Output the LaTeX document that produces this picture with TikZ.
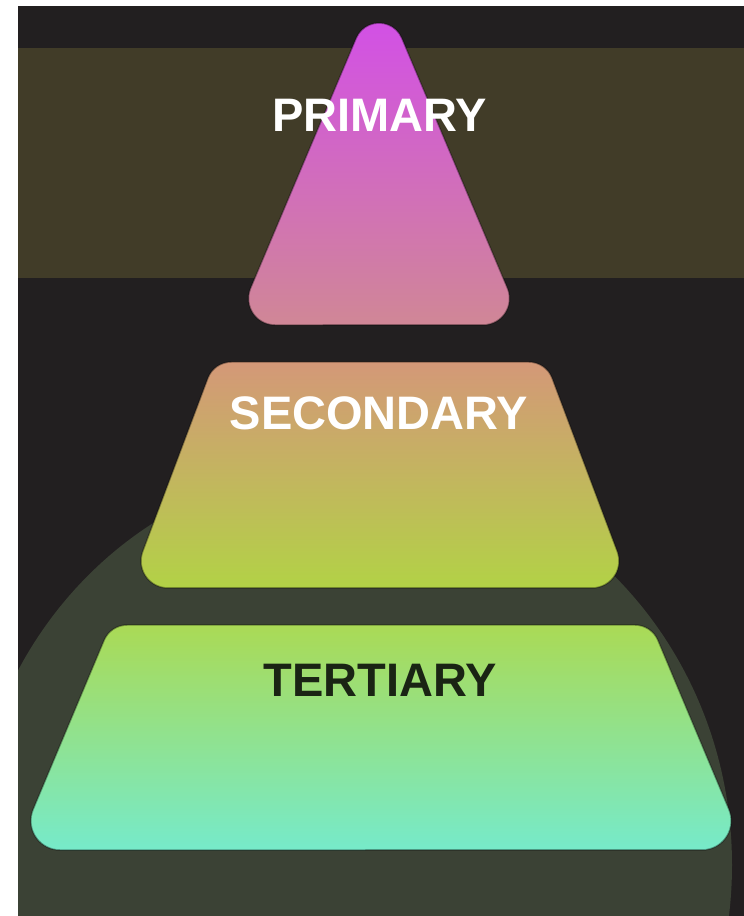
\documentclass[tikz,border=0pt]{standalone}
\usepackage{fontspec}
\setmainfont{Liberation Sans}
\usepackage{tikz}

\definecolor{bgdark}{RGB}{34,31,32}
\definecolor{bgolive}{RGB}{65,60,40}
\definecolor{bgmound}{RGB}{59,66,53}
\definecolor{pritop}{RGB}{210,80,230}
\definecolor{primid}{RGB}{204,100,205}
\definecolor{pribot}{RGB}{208,135,150}
\definecolor{sectop}{RGB}{212,152,120}
\definecolor{secmid}{RGB}{195,185,65}
\definecolor{secbot}{RGB}{178,210,70}
\definecolor{tertop}{RGB}{170,218,85}
\definecolor{termid}{RGB}{136,230,168}
\definecolor{terbot}{RGB}{118,234,202}
\definecolor{tertext}{RGB}{26,36,20}

\begin{document}
\begin{tikzpicture}[x=1pt,y=1pt,
    layer/.style={draw=black,draw opacity=0.35,line width=1.5pt},
    lbl/.style={font=\fontsize{47}{47}\selectfont\bfseries,anchor=base,inner sep=0pt}]
  \useasboundingbox (0,0) rectangle (744,916);
  \fill[white] (0,0) rectangle (744,916);
  \fill[bgdark] (18,0) rectangle (744,910);
  \fill[bgolive] (18,638) rectangle (744,868);
  \begin{scope}
    \clip (18,0) rectangle (744,910);
    \fill[bgmound] (351,51) ellipse [x radius=381,y radius=400];
  \end{scope}
  % primary
  \shade[layer,top color=pritop,middle color=primid,bottom color=pribot]
    (379,591) -- (483,591) arc[start angle=-90,end angle=22.9,radius=26.5]
    -- (401.75,877.9) arc[start angle=22.9,end angle=157.1,radius=24.7]
    -- (250.6,627.8) arc[start angle=157.1,end angle=270,radius=26.5] -- cycle;
  % secondary
  \shade[layer,top color=sectop,middle color=secmid,bottom color=secbot]
    (380,328) -- (592,328) arc[start angle=-90,end angle=20.6,radius=27]
    -- (552.1,537.8) arc[start angle=20.6,end angle=90,radius=25]
    -- (231.3,554) arc[start angle=90,end angle=159.4,radius=25]
    -- (142.7,364.5) arc[start angle=159.4,end angle=270,radius=27] -- cycle;
  % tertiary
  \shade[layer,top color=tertop,middle color=termid,bottom color=terbot]
    (381,66) -- (702,66) arc[start angle=-90,end angle=22.8,radius=29.2]
    -- (657.9,275.7) arc[start angle=22.8,end angle=90,radius=25]
    -- (127.15,291) arc[start angle=90,end angle=157.2,radius=25]
    -- (33.1,106.5) arc[start angle=157.2,end angle=270,radius=29.2] -- cycle;
  \node[lbl,white] (lblprimary) at (379.5,784) {PRIMARY};
  \node[lbl,white] (lblsecondary) at (379,486) {SECONDARY};
  \node[lbl,tertext] (lbltertiary) at (380.5,219) {TERTIARY};
\end{tikzpicture}
\end{document}
